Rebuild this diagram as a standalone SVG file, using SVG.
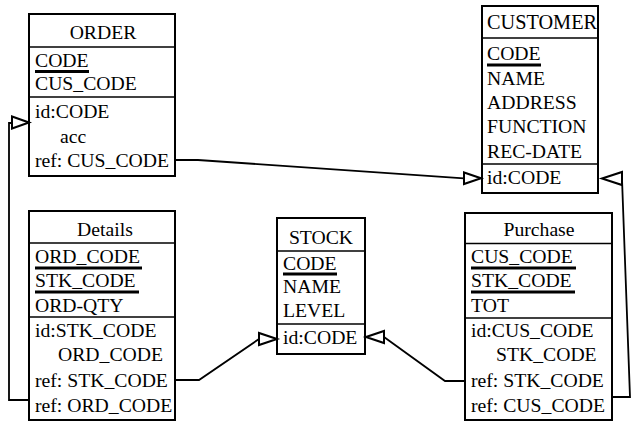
<svg xmlns="http://www.w3.org/2000/svg" width="631" height="424" viewBox="0 0 631 424">
<style>
text{font-family:"Liberation Serif","Times New Roman",serif;font-size:19.7px;fill:#000}
.t{text-anchor:middle}
.box{fill:#fff;stroke:#000;stroke-width:2}
.sep{stroke:#000;stroke-width:1.6}
.ul{stroke:#000;stroke-width:3}
.c{fill:none;stroke:#000;stroke-width:1.8}
.ah{fill:#fff;stroke:#000;stroke-width:2;stroke-linejoin:miter}
</style>
<rect width="631" height="424" fill="#fff"/>
<g id="ORDER">
<rect class="box" x="29" y="14" width="146" height="162"/>
<line class="sep" x1="29" y1="47" x2="175" y2="47"/>
<line class="sep" x1="29" y1="97" x2="175" y2="97"/>
<text class="t" x="103" y="39">ORDER</text>
<text x="35" y="66.5">CODE</text>
<line class="ul" x1="35" y1="71.5" x2="89" y2="71.5"/>
<text x="35" y="90">CUS_CODE</text>
<text x="35" y="118">id:CODE</text>
<text x="60" y="143">acc</text>
<text x="35" y="166.5">ref: CUS_CODE</text>
</g>
<g id="CUSTOMER">
<rect class="box" x="482" y="6" width="116" height="187"/>
<line class="sep" x1="482" y1="38" x2="598" y2="38"/>
<line class="sep" x1="482" y1="164" x2="598" y2="164"/>
<text x="487" y="29" style="font-size:20.3px">CUSTOMER</text>
<text x="487" y="60">CODE</text>
<line class="ul" x1="487" y1="65" x2="541" y2="65"/>
<text x="487" y="84.5">NAME</text>
<text x="487" y="109">ADDRESS</text>
<text x="487" y="133.3">FUNCTION</text>
<text x="487" y="157.5">REC-DATE</text>
<text x="487" y="183.5">id:CODE</text>
</g>
<g id="Details">
<rect class="box" x="29" y="211" width="146" height="209"/>
<line class="sep" x1="29" y1="243" x2="175" y2="243"/>
<line class="sep" x1="29" y1="317" x2="175" y2="317"/>
<text class="t" x="105" y="236">Details</text>
<text x="35" y="263.3">ORD_CODE</text>
<line class="ul" x1="35" y1="268" x2="142" y2="268"/>
<text x="35" y="287.3">STK_CODE</text>
<line class="ul" x1="35" y1="292" x2="139" y2="292"/>
<text x="35" y="311.7">ORD-QTY</text>
<text x="35" y="336.7">id:STK_CODE</text>
<text x="58" y="361">ORD_CODE</text>
<text x="35" y="386.5">ref: STK_CODE</text>
<text x="35" y="411.5">ref: ORD_CODE</text>
</g>
<g id="STOCK">
<rect class="box" x="277" y="218" width="88" height="136"/>
<line class="sep" x1="277" y1="251" x2="365" y2="251"/>
<line class="sep" x1="277" y1="324" x2="365" y2="324"/>
<text class="t" x="321" y="243.5">STOCK</text>
<text x="283" y="269.5">CODE</text>
<line class="ul" x1="283" y1="274" x2="337" y2="274"/>
<text x="283" y="292.5">NAME</text>
<text x="283" y="317">LEVEL</text>
<text x="283" y="343.5">id:CODE</text>
</g>
<g id="Purchase">
<rect class="box" x="465" y="213" width="147" height="207"/>
<line class="sep" x1="465" y1="243.5" x2="612" y2="243.5"/>
<line class="sep" x1="465" y1="318" x2="612" y2="318"/>
<text class="t" x="539" y="236">Purchase</text>
<text x="471" y="263.3">CUS_CODE</text>
<line class="ul" x1="471" y1="268" x2="576" y2="268"/>
<text x="471" y="287.3">STK_CODE</text>
<line class="ul" x1="471" y1="292" x2="575" y2="292"/>
<text x="471" y="311.7">TOT</text>
<text x="471" y="336.7">id:CUS_CODE</text>
<text x="496" y="361">STK_CODE</text>
<text x="471" y="386.5">ref: STK_CODE</text>
<text x="471" y="411.5">ref: CUS_CODE</text>
</g>
<g id="connectors">
<path class="c" d="M175,160 L198,160 L464,178.3"/>
<polygon class="ah" points="481,178.3 464,172.5 464,184"/>
<path class="c" d="M29,400 L9,400 L9,123 L12,123"/>
<polygon class="ah" points="29,122.5 12,116.5 12,128.5"/>
<path class="c" d="M175,380 L199,380 L259,339"/>
<polygon class="ah" points="277,339 259,333 259,345"/>
<path class="c" d="M465,381 L445,381 L384,337"/>
<polygon class="ah" points="366,337 384,331 384,343"/>
<path class="c" d="M612,397 L630,397 L622,179"/>
<polygon class="ah" points="602,178.5 622,172 622,185"/>
</g>
</svg>
